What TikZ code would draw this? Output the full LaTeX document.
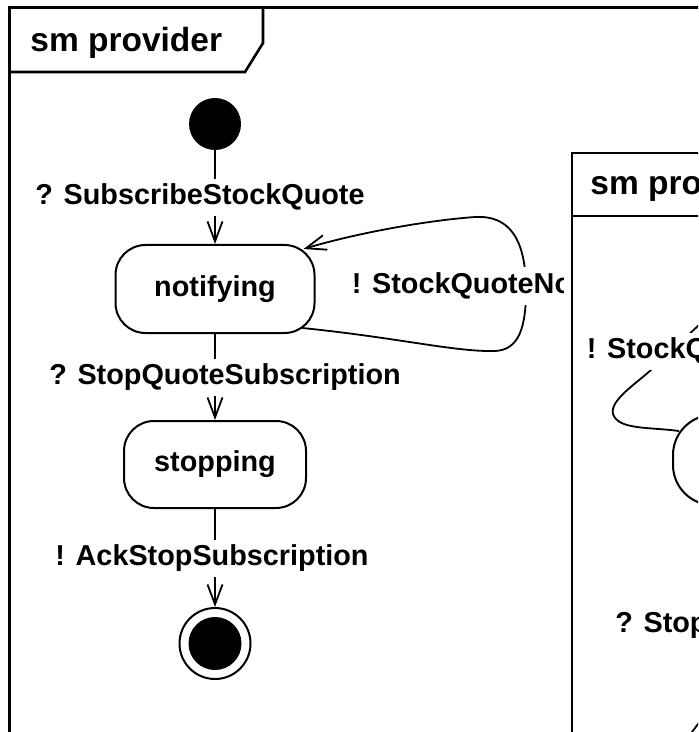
\documentclass[tikz,border=0pt]{standalone}
\usepackage{fontspec}
\setmainfont{Liberation Sans}
\usetikzlibrary{arrows.meta}

\newcommand{\lblfont}{\fontsize{14.4}{17}\selectfont\bfseries}
\newcommand{\titlefont}{\fontsize{16.75}{20}\selectfont\bfseries}

\tikzset{
  frame/.style={line width=1.3pt},
  state/.style={draw, line width=1pt, rounded corners=15pt, font=\lblfont},
  initial/.style={circle, fill=black, minimum size=26pt, inner sep=0pt},
  final/.style={circle, draw, line width=1pt, minimum size=35.5pt, inner sep=0pt,
    path picture={\fill[black] (path picture bounding box.center) circle (13.25pt);}},
  trans/.style={line width=0.9pt, -{Straight Barb[length=10pt,width=7.5pt]}},
  lbl/.style={fill=white, font=\lblfont, text height=10.5pt, text depth=3pt, inner sep=2.5pt},
  title/.style={font=\titlefont, inner sep=0pt}
}

\begin{document}
\begin{tikzpicture}[x=0.5pt, y=-0.5pt]
  \useasboundingbox (0,0) rectangle (698,732);
  \clip (0,0) rectangle (698,732);

  % left frame
  \draw[frame] (9.5,740) |- (710,7.5);
  \draw[frame] (9.5,72) -- (245,72) -- (263,43) -- (263,7.5);
  \node[title, anchor=base west] (title) at (30,52) {sm provider};

  \node[initial] (init) at (215,124) {};
  \node[state, minimum width=99.5pt, minimum height=44pt] (notif) at (215,289) {notifying};
  \node[state, minimum width=91pt, minimum height=43.5pt] (stop) at (215,464.5) {stopping};
  \node[final] (fin) at (215,643.5) {};

  \draw[trans] (init) -- node[lbl, xshift=-7.5pt] {? SubscribeStockQuote} (notif);
  \draw[trans] (notif) -- node[lbl, xshift=5pt] {? StopQuoteSubscription} (stop);
  \draw[trans] (stop) -- node[lbl, xshift=-1.5pt] {! AckStopSubscription} (fin);

  % self loop
  \draw[trans] ([shift={(-13,-6)}]notif.south east)
    .. controls (400,338) and (455,352) .. (495,351)
    .. controls (520,350) and (526,325) .. (526,290)
    .. controls (526,240) and (510,215) .. (475,217)
    .. controls (420,221) and (350,235) .. ([shift={(-12,5)}]notif.north east);
  \node[lbl] (notel) at (522,286) {! StockQuoteNotification};

  % right frame
  \fill[white] (564,153) rectangle (710,740);
  \draw[frame] (572,740) |- (710,153);
  \draw[frame] (572,216) -- (710,216);
  \node[title, anchor=base west] (title2) at (590,195) {sm provider};

  \node[state, minimum width=100pt, minimum height=45pt, rounded corners=20pt] (rstate) at (773,460) {};
  \draw[trans] ([shift={(7,17)}]rstate.north west)
    .. controls (650,427) and (618,430) .. (613,414)
    .. controls (609,400) and (640,381) .. (653,368)
    -- (700,324)
    .. controls (730,296) and (773,330) .. (rstate.north);
  \node[lbl] (notel2) at (757,351) {! StockQuoteNotification};
  \node[lbl] (stopl2) at (791,625) {? StopQuoteSubscription};

  \coordinate (rb1) at (680,748);
  \coordinate (rb2) at (716,700);
  \draw[line width=0.9pt] (rb1) -- (rb2);
\end{tikzpicture}
\end{document}
